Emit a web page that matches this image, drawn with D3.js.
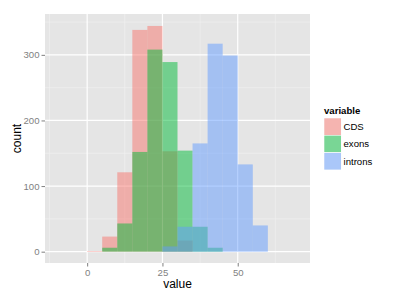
<!DOCTYPE html>
<html>
<head>
<meta charset="utf-8">
<script src="https://cdn.jsdelivr.net/npm/d3@7"></script>
<style>
  body { margin: 0; background: #fff; }
  text { font-family: "Liberation Sans", Arial, sans-serif; }
</style>
</head>
<body>
<svg class="js-chart" width="400" height="300"></svg>
<script>
"use strict";

//data

const binStarts = [0, 5, 10, 15, 20, 25, 30, 35, 40, 45, 50, 55];
const binWidth = 5;

const cds = [1, 23, 121, 338, 344, 153, 17, 0, 0, 0, 0, 0];
const exons = [0, 6, 43, 152, 308, 289, 154, 38, 6, 0, 0, 0];
const introns = [0, 0, 0, 0, 0, 8, 38, 165, 317, 299, 133, 40];

const seriesNames = ["CDS", "exons", "introns"];
const seriesColors = ["#F8766D", "#00BA38", "#619CFF"];

const xTicks = [0, 25, 50];
const xMinor = [-12.5, 12.5, 37.5, 62.5];
const yTicks = [0, 100, 200, 300];
const yMinor = [50, 150, 250, 350];

//layout

const panel = { left: 45, right: 310, top: 14, bottom: 263 };

const svg = d3.select(".js-chart");

//scales

const x = d3.scaleLinear().domain([-14, 74]).range([panel.left, panel.right]);
const y = d3.scaleLinear().domain([-17.25, 362.25]).range([panel.bottom, panel.top]);

//panel

svg.append("rect")
  .attr("x", panel.left)
  .attr("y", panel.top)
  .attr("width", panel.right - panel.left)
  .attr("height", panel.bottom - panel.top)
  .attr("fill", "#E5E5E5");

//grid

const grid = svg.append("g");

grid.selectAll(".minor-x")
  .data(xMinor)
  .enter()
  .append("line")
  .attr("x1", (d) => x(d))
  .attr("x2", (d) => x(d))
  .attr("y1", panel.top)
  .attr("y2", panel.bottom)
  .attr("stroke", "#F2F2F2")
  .attr("stroke-width", 0.6);

grid.selectAll(".minor-y")
  .data(yMinor)
  .enter()
  .append("line")
  .attr("x1", panel.left)
  .attr("x2", panel.right)
  .attr("y1", (d) => y(d))
  .attr("y2", (d) => y(d))
  .attr("stroke", "#F2F2F2")
  .attr("stroke-width", 0.6);

grid.selectAll(".major-x")
  .data(xTicks)
  .enter()
  .append("line")
  .attr("x1", (d) => x(d))
  .attr("x2", (d) => x(d))
  .attr("y1", panel.top)
  .attr("y2", panel.bottom)
  .attr("stroke", "#fff")
  .attr("stroke-width", 1.2);

grid.selectAll(".major-y")
  .data(yTicks)
  .enter()
  .append("line")
  .attr("x1", panel.left)
  .attr("x2", panel.right)
  .attr("y1", (d) => y(d))
  .attr("y2", (d) => y(d))
  .attr("stroke", "#fff")
  .attr("stroke-width", 1.2);

//bars

const series = [cds, exons, introns];

series.forEach((counts, i) => {

  svg.append("g")
    .selectAll("rect")
    .data(binStarts.map((b, j) => ({ b, n: counts[j] })).filter((d) => d.n > 0))
    .enter()
    .append("rect")
    .attr("x", (d) => x(d.b))
    .attr("width", (d) => x(d.b + binWidth) - x(d.b))
    .attr("y", (d) => y(d.n))
    .attr("height", (d) => y(0) - y(d.n))
    .attr("fill", seriesColors[i])
    .attr("fill-opacity", 0.5);

});

//axes

const xAxis = svg.append("g")
  .attr("transform", `translate(0, ${panel.bottom})`)
  .call(d3.axisBottom(x).tickValues(xTicks).tickSize(3.5).tickPadding(3));

const yAxis = svg.append("g")
  .attr("transform", `translate(${panel.left}, 0)`)
  .call(d3.axisLeft(y).tickValues(yTicks).tickSize(3.5).tickPadding(2));

[xAxis, yAxis].forEach((axis) => {
  axis.select(".domain").remove();
  axis.selectAll("line").attr("stroke", "#7F7F7F");
  axis.selectAll("text")
    .attr("fill", "#7F7F7F")
    .style("font-size", "9.6px")
    .style("font-family", "'Liberation Sans', Arial, sans-serif");
});

//titles

svg.append("text")
  .attr("x", (panel.left + panel.right) / 2)
  .attr("y", 288)
  .attr("text-anchor", "middle")
  .style("font-size", "12px")
  .text("value");

svg.append("text")
  .attr("transform", `translate(21, ${(panel.top + panel.bottom) / 2}) rotate(-90)`)
  .attr("text-anchor", "middle")
  .style("font-size", "12px")
  .text("count");

//legend

const legend = svg.append("g").attr("transform", "translate(324, 118)");

legend.append("text")
  .attr("x", 0)
  .attr("y", -4)
  .style("font-size", "9.6px")
  .style("font-weight", "bold")
  .text("variable");

const keys = legend.selectAll(".key")
  .data(seriesNames)
  .enter()
  .append("g")
  .attr("transform", (d, i) => `translate(0, ${i * 17.3})`);

keys.append("rect")
  .attr("width", 17.3)
  .attr("height", 17.3)
  .attr("fill", "#F2F2F2")
  .attr("stroke", "#fff")
  .attr("stroke-width", 0.6);

keys.append("rect")
  .attr("x", 0.3)
  .attr("y", 0.3)
  .attr("width", 16.7)
  .attr("height", 16.7)
  .attr("fill", (d, i) => seriesColors[i])
  .attr("fill-opacity", 0.5);

keys.append("text")
  .attr("x", 19.5)
  .attr("y", 8.65)
  .attr("dy", "0.35em")
  .style("font-size", "9.6px")
  .text((d) => d);
</script>
</body>
</html>
